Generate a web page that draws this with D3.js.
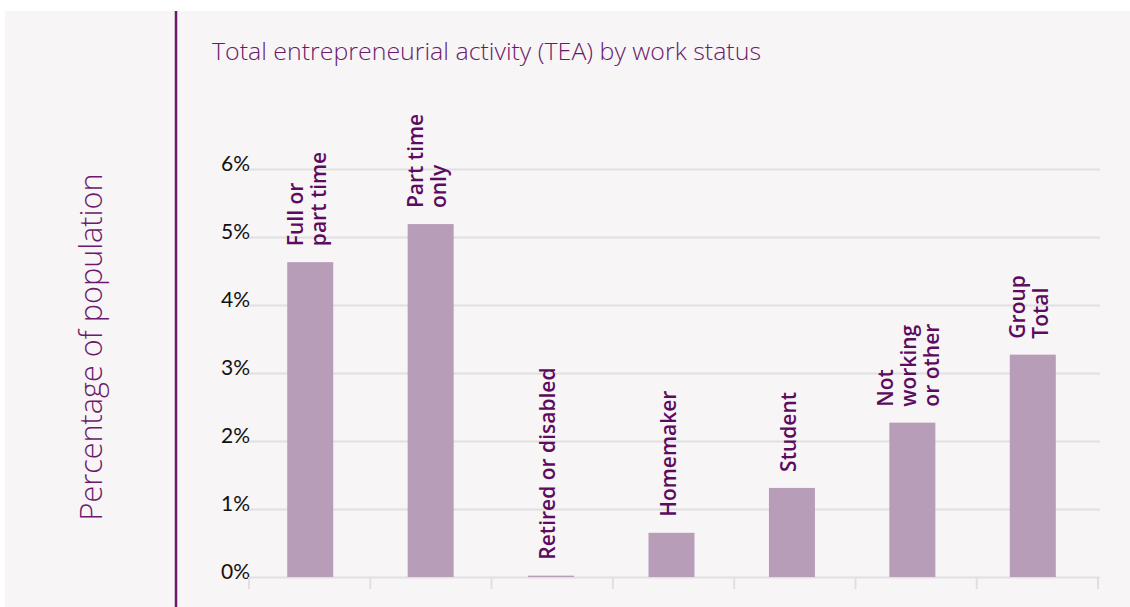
<!DOCTYPE html>
<html>
<head>
<meta charset="utf-8">
<script src="https://cdn.jsdelivr.net/npm/d3@7"></script>
<style>
  html, body { margin: 0; padding: 0; background: #fff; }
  svg { display: block; }
</style>
</head>
<body>
<div id="chart"></div>
<script>
// data
const categories = ["Full or part time", "Part time only", "Retired or disabled", "Homemaker",
    "Student", "Not working or other", "Group Total"];
const labelLines = [["Full or", "part time"], ["Part time", "only"], ["Retired or disabled"], ["Homemaker"],
    ["Student"], ["Not", "working", "or other"], ["Group", "Total"]];
const teaValues = [4.63, 5.19, 0.02, 0.65, 1.31, 2.27, 3.27];
const yTicks = [0, 1, 2, 3, 4, 5, 6];

const W = 1130, H = 607;
const purple = "#6b1a6b";

const svg = d3.select("#chart").append("svg")
    .attr("width", W)
    .attr("height", H);

// panel background
svg.append("rect")
    .attr("x", 5).attr("y", 11)
    .attr("width", W - 5).attr("height", H - 11)
    .attr("fill", "#f7f5f6");

// vertical divider line
svg.append("line")
    .attr("x1", 176).attr("x2", 176)
    .attr("y1", 11).attr("y2", H)
    .attr("stroke", purple)
    .attr("stroke-width", 2.5);

// scales: bars sit a little left of the tick slots in the original
const x = d3.scaleBand()
    .domain(categories)
    .range([250, 1093])
    .paddingInner(0.618)
    .paddingOuter(0.309);

const xSlots = d3.scaleBand()
    .domain(categories)
    .range([249, 1098]);

const y = d3.scaleLinear()
    .domain([0, 6])
    .range([577, 169]);

// gridlines + y labels
const yAxis = svg.append("g")
    .attr("transform", "translate(249,0)")
    .call(d3.axisLeft(y)
        .tickValues(yTicks)
        .tickSize(-(1100 - 249))
        .tickFormat(d => d + "%"));

yAxis.select(".domain").remove();
yAxis.selectAll(".tick line")
    .attr("stroke", "#e1dfe0")
    .attr("stroke-width", 2);
yAxis.selectAll(".tick text")
    .attr("x", 1)
    .attr("dy", "0.05em")
    .attr("fill", "#111")
    .style("font-family", "Lato, 'Open Sans', sans-serif")
    .style("font-size", "21px");

// slot boundary ticks below the zero line
const bounds = categories.map(c => xSlots(c)).concat([xSlots.range()[1]]);

svg.append("g")
    .selectAll("line")
    .data(bounds)
    .enter().append("line")
    .attr("x1", d => d).attr("x2", d => d)
    .attr("y1", 577).attr("y2", 589)
    .attr("stroke", "#e1dfe0")
    .attr("stroke-width", 2);

// bars
svg.append("g")
    .selectAll("rect")
    .data(categories)
    .enter().append("rect")
    .attr("x", d => x(d))
    .attr("width", x.bandwidth())
    .attr("y", (d, i) => y(teaValues[i]))
    .attr("height", (d, i) => y(0) - y(teaValues[i]))
    .attr("fill", "#b89db9");

// rotated bar labels
const lineH = 23;
const labels = svg.append("g")
    .selectAll("text")
    .data(categories)
    .enter().append("text")
    .attr("transform", (d, i) => {
        const cx = x(d) + x.bandwidth() / 2;
        return "translate(" + cx + "," + (y(teaValues[i]) - 16) + ") rotate(-90)";
    })
    .attr("fill", "#5c0b5e")
    .style("font-family", "'Open Sans', sans-serif")
    .style("font-size", "21px")
    .style("font-weight", 600);

labels.each(function (d, i) {
    const lines = labelLines[i];
    const n = lines.length;
    d3.select(this).selectAll("tspan")
        .data(lines)
        .enter().append("tspan")
        .attr("x", 0)
        .attr("y", (l, j) => 4 + (j - (n - 1) / 2) * lineH)
        .text(l => l);
});

// chart title
svg.append("text")
    .attr("x", 212)
    .attr("y", 60)
    .attr("fill", purple)
    .attr("textLength", 549)
    .attr("lengthAdjust", "spacingAndGlyphs")
    .style("font-family", "'Open Sans', sans-serif")
    .style("font-size", "24px")
    .style("font-weight", 300)
    .text("Total entrepreneurial activity (TEA) by work status");

// y axis title
svg.append("text")
    .attr("transform", "translate(102,347) rotate(-90)")
    .attr("text-anchor", "middle")
    .attr("fill", purple)
    .attr("textLength", 347)
    .attr("lengthAdjust", "spacingAndGlyphs")
    .style("font-family", "'Open Sans', sans-serif")
    .style("font-size", "32px")
    .style("font-weight", 300)
    .text("Percentage of population");
</script>
</body>
</html>
